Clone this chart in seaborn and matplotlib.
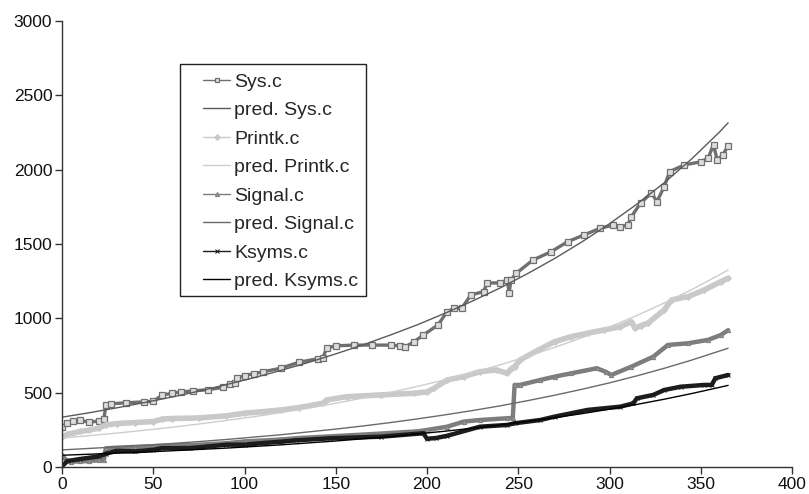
import matplotlib
matplotlib.use("Agg")
import matplotlib.pyplot as plt
from matplotlib.patches import Rectangle
import seaborn as sns
import pandas as pd

# ---- data ----
sys_x = [0,3,6,10,15,20,23,24,27,35,45,50,55,60,65,72,80,88,92,95,96,100,105,110,120,130,140,143,145,150,
         160,170,180,185,188,193,198,206,211,215,219,224,231,233,240,244,245,246,249,258,
         268,277,286,295,302,306,310,312,317,323,326,330,333,341,350,354,357,359,362,365]
sys_y = [272,295,310,315,300,310,325,415,425,432,438,442,484,495,505,512,520,535,560,565,600,615,628,640,665,705,728,735,800,815,
         820,820,820,815,808,843,888,955,1045,1067,1067,1157,1180,1238,1238,1258,1170,1258,1304,1392,
         1448,1515,1561,1606,1627,1616,1627,1684,1775,1843,1785,1886,1987,2032,2053,2078,2167,2065,2099,2160]

pr_x = [0,3,6,10,15,20,24,30,40,50,55,60,75,90,100,110,120,130,143,145,156,175,193,200,204,211,220,229,238,244,
        246,248,251,261,270,279,288,297,306,312,314,317,321,330,334,343,352,361,365]
pr_y = [201,220,228,239,248,261,283,292,299,306,322,326,330,344,362,372,384,400,429,451,473,485,496,505,530,585,608,641,653,630,
        660,675,720,787,843,877,900,922,944,978,933,950,967,1057,1124,1146,1191,1247,1270]

sg_x = [0,2,5,10,15,20,23,24,30,40,50,60,75,90,100,110,120,130,150,175,195,200,211,220,229,244,247,248,251,262,
        270,279,293,298,301,312,324,332,343,354,361,365]
sg_y = [80,50,35,38,40,45,50,125,130,135,140,145,150,160,172,178,185,195,208,225,240,249,271,305,316,328,330,552,552,585,
        608,630,664,640,619,675,742,821,832,855,888,920]

ks_x = [0,3,10,20,24,30,40,50,55,70,80,90,100,110,120,128,147,175,198,200,205,211,229,244,248,262,270,288,306,313,
        315,324,330,339,352,356,358,365]
ks_y = [5,40,54,71,89,109,105,116,127,127,138,150,150,161,170,179,193,204,227,190,195,210,271,283,294,316,339,384,406,428,
        462,485,518,540,552,552,597,619]

pred_x = [0,15,30,45,60,75,90,105,120,135,150,165,180,195,210,225,240,255,270,285,300,315,330,345,360,365]
pred_sys = [335,365,398,433,470,510,554,600,650,703,761,822,888,958,1035,1117,1204,1300,1403,1515,1636,1768,1912,2072,2250,2315]
pred_pr = [195,211,228,247,267,289,313,338,366,396,429,464,502,543,587,635,687,744,805,870,942,1019,1103,1193,1291,1325]
pred_sg = [115,125,135,146,158,171,185,201,217,236,255,276,299,324,351,380,411,446,483,523,566,613,664,719,779,799]
pred_ks = [79,86,93,100,109,118,127,138,149,162,175,190,205,223,241,261,283,306,332,359,389,421,456,494,535,549]

x_ticks = [0, 50, 100, 150, 200, 250, 300, 350, 400]
y_ticks = [0, 500, 1000, 1500, 2000, 2500, 3000]

# ---- style ----
sns.set_theme(style="white")
plt.rcParams['font.family'] = ['Liberation Sans', 'DejaVu Sans']

fig = plt.figure(figsize=(8.09, 4.94), dpi=100)
ax = fig.add_axes([62/809, 1-467/494, (792-62)/809, (467-21)/494])

def draw(x, y, label, color, lw, **kw):
    df = pd.DataFrame({"x": x, "y": y})
    sns.lineplot(data=df, x="x", y="y", ax=ax, color=color, linewidth=lw,
                 estimator=None, sort=False, label=label, **kw)

draw(sys_x, sys_y, "Sys.c", "#6f6f6f", 2.4, marker="s", markersize=4.2,
     markerfacecolor="#dddddd", markeredgecolor="#6f6f6f", markeredgewidth=0.9)
draw(pred_x, pred_sys, "pred. Sys.c", "#5a5a5a", 1.0)
draw(pr_x, pr_y, "Printk.c", "#c9c9c9", 4.0, marker="D", markersize=3,
     markerfacecolor="#c9c9c9", markeredgecolor="#c9c9c9")
draw(pred_x, pred_pr, "pred. Printk.c", "#cdcdcd", 1.0)
draw(sg_x, sg_y, "Signal.c", "#7d7d7d", 3.2, marker="^", markersize=3,
     markerfacecolor="#9a9a9a", markeredgecolor="#7d7d7d")
draw(pred_x, pred_sg, "pred. Signal.c", "#6a6a6a", 1.0)
draw(ks_x, ks_y, "Ksyms.c", "#1c1c1c", 3.2, marker="x", markersize=3.5,
     markeredgecolor="#1c1c1c")
draw(pred_x, pred_ks, "pred. Ksyms.c", "#000000", 1.0)

ax.set_xlim(0, 400)
ax.set_ylim(0, 3000)
ax.set_xticks(x_ticks)
ax.set_yticks(y_ticks)
ax.set_xticklabels([str(t) for t in x_ticks])
ax.set_yticklabels([str(t) for t in y_ticks])
ax.set_xlabel("")
ax.set_ylabel("")
for s in ["top", "right"]:
    ax.spines[s].set_visible(False)
for s in ["left", "bottom"]:
    ax.spines[s].set_color("#333333")
    ax.spines[s].set_linewidth(1.0)
ax.tick_params(axis="both", direction="out", length=5, width=1, color="#333333",
               labelsize=12.5, labelcolor="#111111", pad=2)
ax.tick_params(axis="x", bottom=True)
ax.tick_params(axis="y", left=True)

# legend frame drawn as a separate box, legend content placed inside it
frame = Rectangle((180/809, 1-296/494), (366-180)/809, (296-64)/494,
                  transform=fig.transFigure, facecolor="white", edgecolor="#222222",
                  linewidth=1.0, zorder=5, clip_on=False)
ax.add_patch(frame)

leg = ax.legend(loc="upper left", bbox_to_anchor=(203/809, 1-73/494),
                bbox_transform=fig.transFigure, fontsize=14, frameon=False,
                handlelength=1.4, handletextpad=0.2, labelspacing=0.56,
                borderpad=0, borderaxespad=0)
leg.set_zorder(6)
for h in leg.get_lines():
    h.set_linewidth(1.0)
    h.set_markersize(3)

fig.savefig("out.png", dpi=100, facecolor="white")
